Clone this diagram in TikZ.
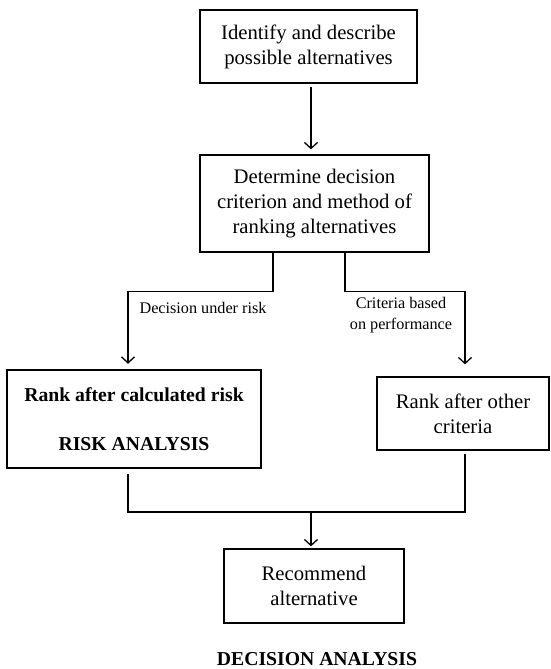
\documentclass[tikz,border=0pt]{standalone}
\usepackage{fontspec}
\setmainfont{Liberation Serif}
\usepackage{tikz}
\usetikzlibrary{arrows.meta,positioning}

\begin{document}
\begin{tikzpicture}[x=0.5pt,y=-0.5pt,
    box/.style={draw,line width=0.65pt,rectangle,inner sep=0pt,align=center,
      font=\fontsize{10.35}{12.5}\selectfont},
    riskbox/.style={box,line width=1.2pt,font=\fontsize{9.85}{12.25}\selectfont\bfseries},
    lbl/.style={align=center,inner sep=0pt,font=\fontsize{8.1}{10.5}\selectfont},
    link/.style={line width=0.65pt,-{Straight Barb[length=3pt,width=6.5pt]}},
    line/.style={line width=0.65pt}]
  \useasboundingbox (0,0) rectangle (551,669);
  % boxes
  \node[box,minimum width=108.5pt,minimum height=36.5pt] (ident) at (308.5,46.5)
    {Identify and describe\\possible alternatives};
  \node[box,minimum width=114.5pt,minimum height=48.5pt] (det) at (314.5,203.5)
    {Determine decision\\criterion and method of\\ranking alternatives};
  \node[riskbox,minimum width=127pt,minimum height=49pt] (risk) at (134,419)
    {Rank after calculated risk\\[12.25pt]RISK ANALYSIS};
  \node[box,minimum width=86pt,minimum height=36.5pt] (other) at (463,413.5)
    {Rank after other\\criteria};
  \node[box,minimum width=90pt,minimum height=37pt] (rec) at (314,586)
    {Recommend\\alternative};
  % branch labels
  \node[lbl] (risklbl) at (203,308) {Decision under risk};
  \node[lbl] (perflbl) at (401,315.5) {Criteria based\\on performance};
  % title
  \node[font=\fontsize{9.85}{12}\selectfont\bfseries,inner sep=0pt] (title) at (317,659)
    {DECISION ANALYSIS};
  % connectors
  \draw[link,shorten <=1.5pt,shorten >=2.5pt] ([xshift=1.25pt]ident.south)
    -- ([xshift=1.25pt]ident.south |- det.north);
  \draw[link,shorten >=2.5pt] ([xshift=-20.75pt]det.south) -- ++(0,39)
    -| ([xshift=-3pt]risk.north);
  \draw[link,shorten >=6pt] ([xshift=15.25pt]det.south) -- ++(0,39)
    -| ([xshift=1pt]other.north);
  \coordinate (join) at (311,512);
  \draw[line,shorten <=2.5pt] ([xshift=-3pt]risk.south) |- (join);
  \draw[line,shorten <=1.5pt] ([xshift=1pt]other.south) |- (join);
  \draw[link,shorten >=1pt] (join) -- (join |- rec.north);
\end{tikzpicture}
\end{document}
